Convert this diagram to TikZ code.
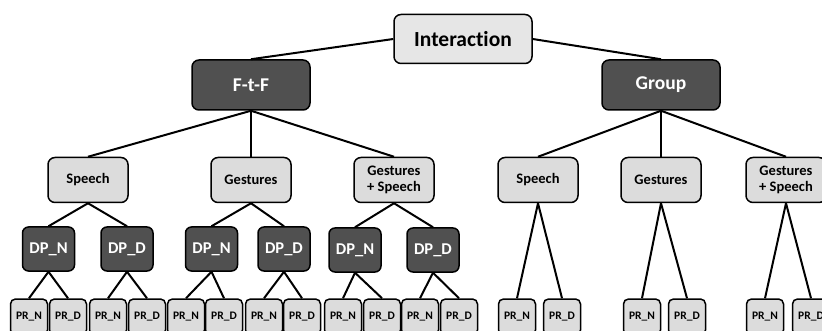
\documentclass[tikz,border=0pt]{standalone}
\usepackage{fontspec}
\setmainfont{Carlito}[Ligatures=NoCommon]
\usepackage{tikz}
\definecolor{toplight}{HTML}{E6E6E6}
\definecolor{boxlight}{HTML}{DCDCDC}
\definecolor{boxdark}{HTML}{505050}

\begin{document}
\begin{tikzpicture}[x=1pt, y=-1pt,
  box/.style={draw, line width=1.5pt, rounded corners=7pt, inner sep=0pt, align=center, font=\bfseries},
  rootbox/.style={box, fill=toplight, minimum width=138pt, minimum height=49pt, font=\bfseries\fontsize{21.5}{24}\selectfont},
  darkbox/.style={box, fill=boxdark, text=white, minimum width=118pt, minimum height=50pt, font=\bfseries\fontsize{19.5}{22}\selectfont},
  modebox/.style={box, fill=boxlight, minimum width=80pt, minimum height=45pt, font=\bfseries\fontsize{14.5}{16.5}\selectfont},
  dpbox/.style={box, fill=boxdark, text=white, rounded corners=6pt, minimum width=52pt, minimum height=44pt, font=\bfseries\fontsize{16.5}{18}\selectfont},
  prbox/.style={box, fill=boxlight, rounded corners=5pt, minimum width=37pt, minimum height=36pt, font=\bfseries\fontsize{11.5}{13}\selectfont},
  link/.style={line width=2pt}]
\useasboundingbox (0,0) rectangle (822,331);
\clip (0,0) rectangle (822,331);

% top levels
\node[rootbox] (inter) at (463,39) {Interaction};
\node[darkbox] (ftf) at (251,85) {F-t-F};
\node[darkbox] (group) at (661,85) {Group};

% modes
\node[modebox] (fspeech) at (88,180) {Speech};
\node[modebox] (fgest) at (251,180) {Gestures};
\node[modebox] (fboth) at (394,180) {Gestures\\+ Speech};
\node[modebox] (gspeech) at (538,180) {Speech};
\node[modebox] (ggest) at (661,180) {Gestures};
\node[modebox] (gboth) at (786,180) {Gestures\\+ Speech};

% dp level
\node[dpbox] (dpn1) at (48.5,249) {DP\_N};
\node[dpbox] (dpd1) at (127,249) {DP\_D};
\node[dpbox] (dpn2) at (211.5,249) {DP\_N};
\node[dpbox] (dpd2) at (284,249) {DP\_D};
\node[dpbox] (dpn3) at (355,250) {DP\_N};
\node[dpbox] (dpd3) at (433,250) {DP\_D};

% pr level
\node[prbox] (pr1) at (29,317) {PR\_N};
\node[prbox] (pr2) at (68,317) {PR\_D};
\node[prbox] (pr3) at (108,317) {PR\_N};
\node[prbox] (pr4) at (147,317) {PR\_D};
\node[prbox] (pr5) at (186,317) {PR\_N};
\node[prbox] (pr6) at (224,317) {PR\_D};
\node[prbox] (pr7) at (264,317) {PR\_N};
\node[prbox] (pr8) at (302,317) {PR\_D};
\node[prbox] (pr9) at (343,317) {PR\_N};
\node[prbox] (pr10) at (382,317) {PR\_D};
\node[prbox] (pr11) at (420,317) {PR\_N};
\node[prbox] (pr12) at (459,317) {PR\_D};
\node[prbox] (gpr1) at (517,317) {PR\_N};
\node[prbox] (gpr2) at (562,317) {PR\_D};
\node[prbox] (gpr3) at (642,317) {PR\_N};
\node[prbox] (gpr4) at (687,317) {PR\_D};
\node[prbox] (gpr5) at (765,317) {PR\_N};
\node[prbox] (gpr6) at (811,317) {PR\_D};

% links
\draw[link] (inter.west)--(ftf.north);
\draw[link] (inter.east)--(group.north);
\draw[link] (ftf.south)--(fspeech.north);
\draw[link] (ftf.south)--(fgest.north);
\draw[link] (ftf.south)--(fboth.north);
\draw[link] (group.south)--(gspeech.north);
\draw[link] (group.south)--(ggest.north);
\draw[link] (group.south)--(gboth.north);
\draw[link] (fspeech.south)--(dpn1.north);
\draw[link] (fspeech.south)--(dpd1.north);
\draw[link] (fgest.south)--(dpn2.north);
\draw[link] (fgest.south)--(dpd2.north);
\draw[link] (fboth.south)--(dpn3.north);
\draw[link] (fboth.south)--(dpd3.north);
\draw[link] (dpn1.south)--(pr1.north);
\draw[link] (dpn1.south)--(pr2.north);
\draw[link] (dpd1.south)--(pr3.north);
\draw[link] (dpd1.south)--(pr4.north);
\draw[link] (dpn2.south)--(pr5.north);
\draw[link] (dpn2.south)--(pr6.north);
\draw[link] (dpd2.south)--(pr7.north);
\draw[link] (dpd2.south)--(pr8.north);
\draw[link] (dpn3.south)--(pr9.north);
\draw[link] (dpn3.south)--(pr10.north);
\draw[link] (dpd3.south)--(pr11.north);
\draw[link] (dpd3.south)--(pr12.north);
\draw[link] (gspeech.south)--(gpr1.north);
\draw[link] (gspeech.south)--(gpr2.north);
\draw[link] (ggest.south)--(gpr3.north);
\draw[link] (ggest.south)--(gpr4.north);
\draw[link] (gboth.south)--(gpr5.north);
\draw[link] (gboth.south)--(gpr6.north);
\end{tikzpicture}
\end{document}
